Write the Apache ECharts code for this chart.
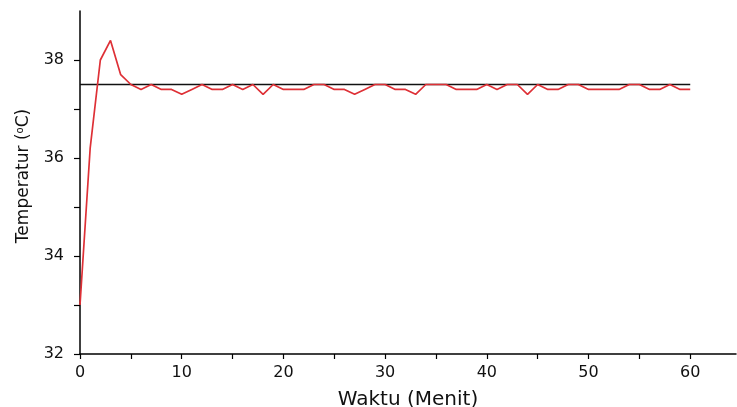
<!DOCTYPE html>
<html><head><meta charset="utf-8">
<script src="https://cdn.jsdelivr.net/npm/echarts@6/dist/echarts.min.js"></script>
<style>html,body{margin:0;padding:0;background:#fff}#c{width:737px;height:407px}</style>
</head><body><div id="c"></div>
<script>
var minutes = [];
for (var i = 0; i <= 60; i++) minutes.push(i);
var temperature = [33.0,36.2,38.0,38.4,37.7,37.5,37.4,37.5,37.4,37.4,37.3,37.4,37.5,37.4,37.4,37.5,37.4,37.5,37.3,37.5,
  37.4,37.4,37.4,37.5,37.5,37.4,37.4,37.3,37.4,37.5,37.5,37.4,37.4,37.3,37.5,37.5,37.5,37.4,37.4,37.4,
  37.5,37.4,37.5,37.5,37.3,37.5,37.4,37.4,37.5,37.5,37.4,37.4,37.4,37.4,37.5,37.5,37.4,37.4,37.5,37.4,37.4];
var setpointX = [0, 60];
var setpointY = 37.5;
var xTicks = [0,10,20,30,40,50,60];
var xMinorTicks = [0,5,10,15,20,25,30,35,40,45,50,55,60];
var yTicks = [32,34,36,38];

var chart = echarts.init(document.getElementById('c'), null, {renderer:'canvas'});
var font = 'DejaVu Sans, Liberation Sans, sans-serif';
chart.setOption({
  backgroundColor:'#fff',
  animation:false,
  grid:{left:80, top:11, width:656, height:343, containLabel:false, outerBoundsMode:'none'},
  xAxis:{type:'value', min:0, max:64.5, interval:5,
    axisLine:{show:true, lineStyle:{color:'#000', width:1.5}},
    axisTick:{show:true, length:5, customValues:xMinorTicks, lineStyle:{color:'#000', width:1.2}},
    splitLine:{show:false},
    axisLabel:{margin:11, color:'#111', fontFamily:font, fontSize:16, customValues:xTicks},
    name:'Waktu (Menit)', nameLocation:'middle', nameGap:36,
    nameTextStyle:{color:'#111', fontFamily:font, fontSize:20}
  },
  yAxis:{type:'value', min:32, max:39, interval:1,
    axisLine:{show:true, onZero:false, lineStyle:{color:'#000', width:1.5}},
    axisTick:{show:true, length:6, lineStyle:{color:'#000', width:1.2}},
    splitLine:{show:false},
    axisLabel:{margin:16, color:'#111', fontFamily:font, fontSize:16, showMaxLabel:false,
      formatter:function(v){return yTicks.indexOf(v)>=0 ? String(v) : '';}},
    name:'{n|Temperatur (}{s|o}{n|C)}', nameLocation:'middle', nameGap:47,
    nameTextStyle:{color:'#111', fontFamily:font, fontSize:17, padding:[0,0,0,13],
      rich:{n:{fontFamily:font, fontSize:17, color:'#111'}, s:{fontFamily:font, fontSize:10, color:'#111', verticalAlign:'top', padding:[0,0,8,0]}}}
  },
  series:[
    {type:'line', data:setpointX.map(function(x){return [x, setpointY];}), symbol:'none',
      lineStyle:{color:'#111', width:1.3}, z:2},
    {type:'line', data:minutes.map(function(m,i){return [m, temperature[i]];}), symbol:'none',
      lineStyle:{color:'#de3036', width:1.7}, z:3}
  ]
});
</script></body></html>
